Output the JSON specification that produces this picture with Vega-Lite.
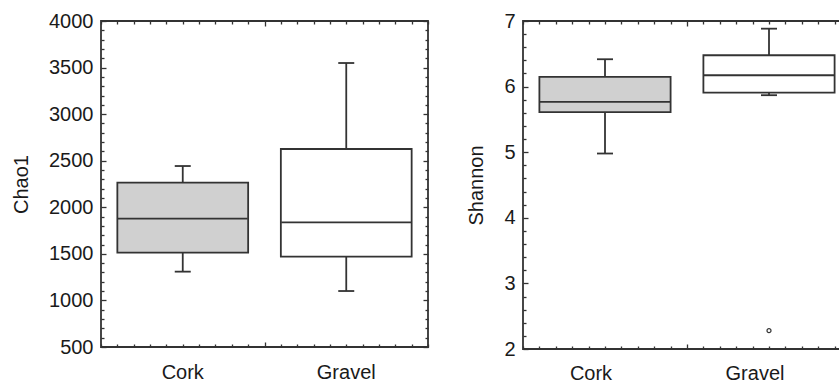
{
  "$schema": "https://vega.github.io/schema/vega-lite/v6.json",
  "padding": {"left": 10, "top": 10, "right": 0, "bottom": 0},
  "spacing": 35,
  "config": {
    "font": "Liberation Sans",
    "view": {"stroke": "#333", "strokeWidth": 1.8},
    "axis": {"labelFont": "Liberation Sans", "labelFontSize": 20, "labelColor": "#1a1a1a", "titleFont": "Liberation Sans", "titleFontSize": 20, "titleFontWeight": "normal", "titleColor": "#1a1a1a", "domain": false, "grid": false, "tickColor": "#333", "tickWidth": 1.3}
  },
  "hconcat": [
    {
      "width": 327, "height": 326,
      "data": {"values": [
        {"site": "Cork", "lower": 1309, "q1": 1513, "median": 1878, "q3": 2264, "upper": 2443},
        {"site": "Gravel", "lower": 1101, "q1": 1470, "median": 1839, "q3": 2626, "upper": 3549}
      ]},
      "layer": [
        {"mark": {"type": "rule", "color": "#333", "strokeWidth": 1.8},
         "encoding": {
           "x": {"field": "site", "type": "nominal", "scale": {"domain": ["Cork", "Gravel"], "paddingInner": 0, "paddingOuter": 0}, "axis": {"title": null, "ticks": false, "labelAngle": 0, "labelPadding": 15}},
           "y": {"field": "lower", "type": "quantitative", "scale": {"domain": [500, 4000], "nice": false, "zero": false}, "axis": {"title": "Chao1", "format": "d", "values": [500, 1000, 1500, 2000, 2500, 3000, 3500, 4000], "ticks": false, "labelPadding": 8, "titlePadding": 17}},
           "y2": {"field": "upper"}}},
        {"mark": {"type": "bar", "stroke": "#333", "strokeWidth": 1.8, "width": {"band": 0.8}},
         "encoding": {
           "x": {"field": "site", "type": "nominal", "scale": {"domain": ["Cork", "Gravel"], "paddingInner": 0, "paddingOuter": 0}, "axis": null},
           "y": {"field": "q1", "type": "quantitative", "axis": null}, "y2": {"field": "q3"},
           "color": {"field": "site", "type": "nominal", "scale": {"domain": ["Cork", "Gravel"], "range": ["#d0d0d0", "#ffffff"]}, "legend": null}}},
        {"mark": {"type": "tick", "color": "#333", "thickness": 1.8, "size": 130, "opacity": 1},
         "encoding": {
           "x": {"field": "site", "type": "nominal", "scale": {"domain": ["Cork", "Gravel"], "paddingInner": 0, "paddingOuter": 0}, "axis": null},
           "y": {"field": "median", "type": "quantitative", "axis": null}}},
        {"mark": {"type": "tick", "color": "#333", "thickness": 1.8, "size": 16, "opacity": 1},
         "encoding": {
           "x": {"field": "site", "type": "nominal", "scale": {"domain": ["Cork", "Gravel"], "paddingInner": 0, "paddingOuter": 0}, "axis": null},
           "y": {"field": "upper", "type": "quantitative", "axis": null}}},
        {"mark": {"type": "tick", "color": "#333", "thickness": 1.8, "size": 16, "opacity": 1},
         "encoding": {
           "x": {"field": "site", "type": "nominal", "scale": {"domain": ["Cork", "Gravel"], "paddingInner": 0, "paddingOuter": 0}, "axis": null},
           "y": {"field": "lower", "type": "quantitative", "axis": null}}},
        {"mark": {"type": "point", "opacity": 0},
         "encoding": {
           "x": {"field": "site", "type": "nominal", "scale": {"domain": ["Cork", "Gravel"], "paddingInner": 0, "paddingOuter": 0}, "axis": null},
           "y": {"field": "lower", "type": "quantitative", "axis": {"orient": "left", "labels": false, "title": null, "values": [500,600,700,800,900,1000,1100,1200,1300,1400,1500,1600,1700,1800,1900,2000,2100,2200,2300,2400,2500,2600,2700,2800,2900,3000,3100,3200,3300,3400,3500,3600,3700,3800,3900,4000], "tickSize": {"condition": {"test": "datum.value % 500 === 0", "value": -5}, "value": -3}}}}},
        {"mark": {"type": "point", "opacity": 0},
         "encoding": {
           "x": {"field": "site", "type": "nominal", "scale": {"domain": ["Cork", "Gravel"], "paddingInner": 0, "paddingOuter": 0}, "axis": null},
           "y": {"field": "lower", "type": "quantitative", "axis": {"orient": "right", "labels": false, "title": null, "values": [500,600,700,800,900,1000,1100,1200,1300,1400,1500,1600,1700,1800,1900,2000,2100,2200,2300,2400,2500,2600,2700,2800,2900,3000,3100,3200,3300,3400,3500,3600,3700,3800,3900,4000], "tickSize": {"condition": {"test": "datum.value % 500 === 0", "value": -5}, "value": -3}}}}},
        {"mark": {"type": "point", "opacity": 0},
         "encoding": {
           "x": {"datum": 0, "type": "quantitative", "scale": {"domain": [0, 20], "nice": false, "zero": false}, "axis": {"orient": "top", "labels": false, "title": null, "values": [0,1,2,3,4,5,6,7,8,9,10,11,12,13,14,15,16,17,18,19,20], "tickSize": {"condition": {"test": "datum.value === 10", "value": -5}, "value": -3}}},
           "y": {"field": "lower", "type": "quantitative", "axis": null}}},
        {"mark": {"type": "point", "opacity": 0},
         "encoding": {
           "x": {"datum": 0, "type": "quantitative", "scale": {"domain": [0, 20], "nice": false, "zero": false}, "axis": {"orient": "bottom", "labels": false, "title": null, "values": [0,1,2,3,4,5,6,7,8,9,10,11,12,13,14,15,16,17,18,19,20], "tickSize": {"condition": {"test": "datum.value === 10", "value": -5}, "value": -3}}},
           "y": {"field": "lower", "type": "quantitative", "axis": null}}}
      ],
      "resolve": {"scale": {"x": "independent"}, "axis": {"y": "independent"}}
    },
    {
      "width": 328, "height": 328,
      "data": {"values": [
        {"site": "Cork", "lower": 4.98, "q1": 5.61, "median": 5.767, "q3": 6.148, "upper": 6.417},
        {"site": "Gravel", "lower": 5.869, "q1": 5.909, "median": 6.173, "q3": 6.478, "upper": 6.883, "outlier": 2.28}
      ]},
      "layer": [
        {"mark": {"type": "rule", "color": "#333", "strokeWidth": 1.8},
         "encoding": {
           "x": {"field": "site", "type": "nominal", "scale": {"domain": ["Cork", "Gravel"], "paddingInner": 0, "paddingOuter": 0}, "axis": {"title": null, "ticks": false, "labelAngle": 0, "labelPadding": 14, "labelOffset": -14}},
           "y": {"field": "lower", "type": "quantitative", "scale": {"domain": [2, 7], "nice": false, "zero": false}, "axis": {"title": "Shannon", "values": [2, 3, 4, 5, 6, 7], "ticks": false, "labelPadding": 8, "titlePadding": 17}},
           "y2": {"field": "upper"}}},
        {"mark": {"type": "bar", "stroke": "#333", "strokeWidth": 1.8, "width": {"band": 0.8}},
         "encoding": {
           "x": {"field": "site", "type": "nominal", "scale": {"domain": ["Cork", "Gravel"], "paddingInner": 0, "paddingOuter": 0}, "axis": null},
           "y": {"field": "q1", "type": "quantitative", "axis": null}, "y2": {"field": "q3"},
           "color": {"field": "site", "type": "nominal", "scale": {"domain": ["Cork", "Gravel"], "range": ["#d0d0d0", "#ffffff"]}, "legend": null}}},
        {"mark": {"type": "tick", "color": "#333", "thickness": 1.8, "size": 130, "opacity": 1},
         "encoding": {
           "x": {"field": "site", "type": "nominal", "scale": {"domain": ["Cork", "Gravel"], "paddingInner": 0, "paddingOuter": 0}, "axis": null},
           "y": {"field": "median", "type": "quantitative", "axis": null}}},
        {"mark": {"type": "tick", "color": "#333", "thickness": 1.8, "size": 16, "opacity": 1},
         "encoding": {
           "x": {"field": "site", "type": "nominal", "scale": {"domain": ["Cork", "Gravel"], "paddingInner": 0, "paddingOuter": 0}, "axis": null},
           "y": {"field": "upper", "type": "quantitative", "axis": null}}},
        {"mark": {"type": "tick", "color": "#333", "thickness": 1.8, "size": 16, "opacity": 1},
         "encoding": {
           "x": {"field": "site", "type": "nominal", "scale": {"domain": ["Cork", "Gravel"], "paddingInner": 0, "paddingOuter": 0}, "axis": null},
           "y": {"field": "lower", "type": "quantitative", "axis": null}}},
        {"mark": {"type": "point", "shape": "circle", "size": 16, "stroke": "#333", "strokeWidth": 1.2, "filled": false, "opacity": 1},
         "encoding": {
           "x": {"field": "site", "type": "nominal", "scale": {"domain": ["Cork", "Gravel"], "paddingInner": 0, "paddingOuter": 0}, "axis": null},
           "y": {"field": "outlier", "type": "quantitative", "axis": null}}},
        {"mark": {"type": "point", "opacity": 0},
         "encoding": {
           "x": {"field": "site", "type": "nominal", "scale": {"domain": ["Cork", "Gravel"], "paddingInner": 0, "paddingOuter": 0}, "axis": null},
           "y": {"field": "lower", "type": "quantitative", "axis": {"orient": "left", "labels": false, "title": null, "values": [2,2.2,2.4,2.6,2.8,3,3.2,3.4,3.6,3.8,4,4.2,4.4,4.6,4.8,5,5.2,5.4,5.6,5.8,6,6.2,6.4,6.6,6.8,7], "tickSize": {"condition": {"test": "datum.value % 1 === 0", "value": -5}, "value": -3}}}}},
        {"mark": {"type": "point", "opacity": 0},
         "encoding": {
           "x": {"datum": 0, "type": "quantitative", "scale": {"domain": [0, 20], "nice": false, "zero": false}, "axis": {"orient": "top", "labels": false, "title": null, "values": [0,1,2,3,4,5,6,7,8,9,10,11,12,13,14,15,16,17,18,19,20], "tickSize": {"condition": {"test": "datum.value === 10", "value": -5}, "value": -3}}},
           "y": {"field": "lower", "type": "quantitative", "axis": null}}},
        {"mark": {"type": "point", "opacity": 0},
         "encoding": {
           "x": {"datum": 0, "type": "quantitative", "scale": {"domain": [0, 20], "nice": false, "zero": false}, "axis": {"orient": "bottom", "labels": false, "title": null, "values": [0,1,2,3,4,5,6,7,8,9,10,11,12,13,14,15,16,17,18,19,20], "tickSize": {"condition": {"test": "datum.value === 10", "value": -5}, "value": -3}}},
           "y": {"field": "lower", "type": "quantitative", "axis": null}}}
      ],
      "resolve": {"scale": {"x": "independent"}, "axis": {"y": "independent"}}
    }
  ]
}
